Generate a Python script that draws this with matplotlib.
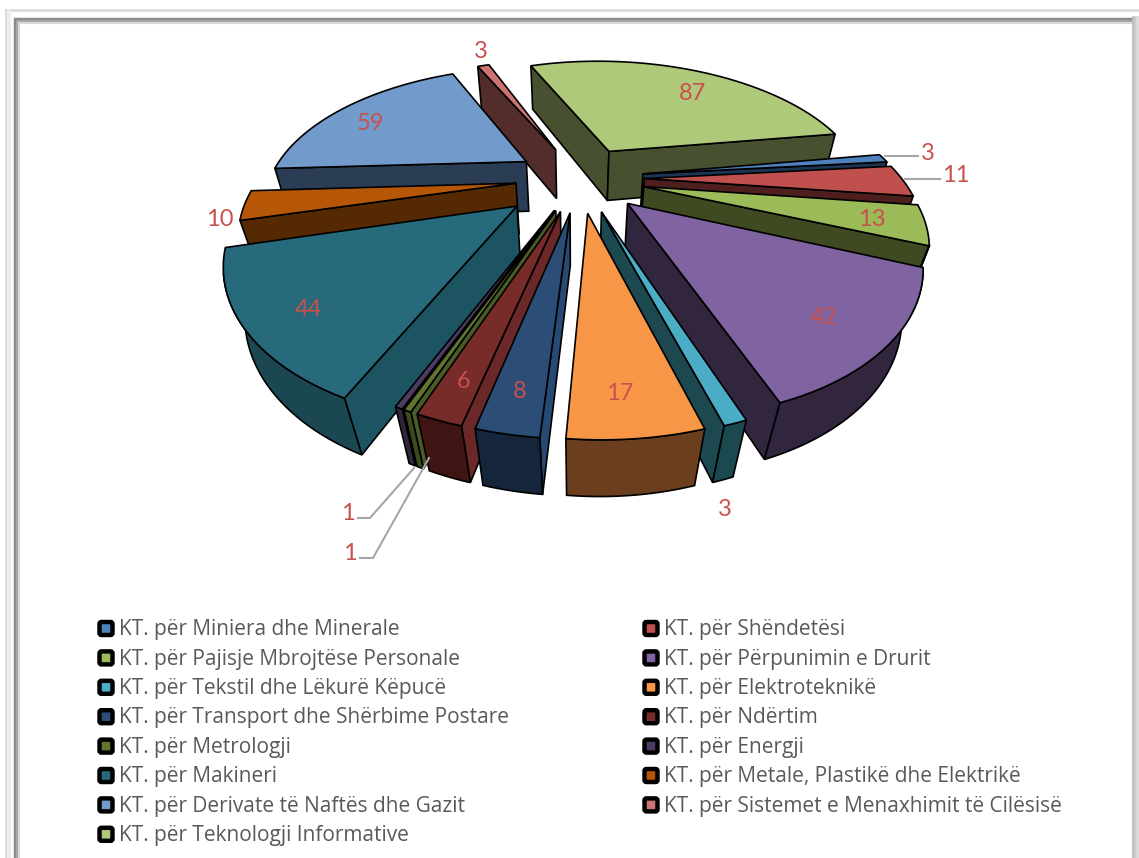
import numpy as np
import matplotlib
matplotlib.use("Agg")
import matplotlib.pyplot as plt
from matplotlib.patches import Polygon, FancyBboxPatch

categories = [
    "KT. për Miniera dhe Minerale", "KT. për Shëndetësi",
    "KT. për Pajisje Mbrojtëse Personale", "KT. për Përpunimin e Drurit",
    "KT. për Tekstil dhe Lëkurë Këpucë", "KT. për Elektroteknikë",
    "KT. për Transport dhe Shërbime Postare", "KT. për Ndërtim",
    "KT. për Metrologji", "KT. për Energji",
    "KT. për Makineri", "KT. për Metale, Plastikë dhe Elektrikë",
    "KT. për Derivate të Naftës dhe Gazit", "KT. për Sistemet e Menaxhimit të Cilësisë",
    "KT. për Teknologji Informative",
]
values = [3, 11, 13, 42, 3, 17, 8, 6, 1, 1, 44, 10, 59, 3, 87]

top_colors = ["#4F81BD", "#C0504D", "#9BBB59", "#8064A2", "#4BACC6", "#F79646", "#2C4D75", "#772C2A",
              "#5F7530", "#4D3B62", "#276A7C", "#B65708", "#729ACA", "#CD7371", "#AFC97A"]
radial_colors = ["#1D3554", "#4F1F1F", "#3F4A22", "#32263F", "#1C4850", "#6B3F1E", "#264A74", "#6A2828",
                 "#4A5C25", "#3F3052", "#1C5462", "#552A03", "#2A3D55", "#532C2C", "#47502F"]
arc_colors = ["#1D3554", "#4F1F1F", "#3F4A22", "#32263F", "#1C4850", "#6B3F1E", "#15263C", "#411414",
              "#3C4A1E", "#32263F", "#1A4752", "#552A03", "#2A3D55", "#532C2C", "#47502F"]

explodes = [0.25, 0.25, 0.25, 0.25, 0.25, 0.25, 0.25, 0.25, 0.25, 0.25, 0.31, 0.25, 0.25, 0.25, 0.25]

label_xy = [(928, 154), (956, 176), (872, 220), (823, 318), (725, 509), (620, 393), (520, 392), (464, 382),
            (348, 514), (350, 554), (308, 310), (220, 220), (370, 123), (481, 51), (693, 94)]

# projection of the pie, pixel units
cx, cy = 580, 178
R, k, p = 257, 0.51, 0.30
shear = 0.05
start = 81.0
vx, vy = 575, 1148


def proj(X, Y):
    w = 1.0 / (1.0 - p * Y)
    sy = cy + R * k * Y * w
    return cx + R * X * w + shear * (sy - cy), sy


def lower(sx, sy):
    f = 0.033 + 0.000107 * sy
    return sx + f * (vx - sx), sy + f * (vy - sy)


fig = plt.figure(figsize=(11.39, 8.58), dpi=100)
ax = fig.add_axes([0, 0, 1, 1])
ax.set_xlim(0, 1139)
ax.set_ylim(858, 0)
ax.axis("off")

# frame
ax.plot([6, 6, 1145], [870, 10, 10], color="#DADADA", lw=2, solid_joinstyle="miter")
ax.plot([9, 9], [12, 870], color="#EDEDED", lw=3)
for off, col, lw in [(0, "#8C8C8C", 2.5), (2, "#A8A8A8", 2), (4, "#D8D8D8", 1.5)]:
    ax.plot([15 + off, 15 + off, 1133], [858, 19 + off, 19 + off], color=col, lw=lw, solid_joinstyle="miter")
for x, col in [(1133, "#BDBDBD"), (1135, "#CCCCCC"), (1137, "#DADADA")]:
    ax.plot([x, x], [17, 870], color=col, lw=2)

angles = start + np.cumsum([0] + values) * 360.0 / np.sum(values)
order = sorted(range(len(values)), key=lambda i: -np.cos(np.radians((angles[i] + angles[i + 1]) / 2)))
cam_y = 1.0 / p

for i in order:
    a0, a1 = angles[i], angles[i + 1]
    mid = np.radians((a0 + a1) / 2)
    Xa, Ya = explodes[i] * np.sin(mid), -explodes[i] * np.cos(mid)
    t = np.radians(np.linspace(a0, a1, 80))
    ox, oy = proj(Xa + np.sin(t), Ya - np.cos(t))
    apex = proj(Xa, Ya)
    lx, ly = lower(ox, oy)
    bx, by = lower(*apex)
    # side faces that look towards the camera
    n0 = -np.cos(t[0]), -np.sin(t[0])
    n1 = np.cos(t[-1]), np.sin(t[-1])
    for j, n in ((0, n0), (-1, n1)):
        if (-Xa) * n[0] + (cam_y - Ya) * n[1] > 0:
            ax.add_patch(Polygon([apex, (ox[j], oy[j]), (lx[j], ly[j]), (bx, by)], closed=True, fc=radial_colors[i], ec="black", lw=1.2))
    seen = (-Xa) * np.sin(t) + (cam_y - Ya) * (-np.cos(t)) - 1 > 0
    if seen.sum() > 1:
        ax.add_patch(Polygon(np.column_stack([np.r_[ox[seen], lx[seen][::-1]], np.r_[oy[seen], ly[seen][::-1]]]), closed=True, fc=arc_colors[i], ec="black", lw=1.2))
    ax.add_patch(Polygon(np.column_stack([np.r_[apex[0], ox], np.r_[apex[1], oy]]), closed=True, fc=top_colors[i], ec="black", lw=1.2))

# leader lines
for xs, ys in [([885, 918], [156, 156]), ([905, 940], [179, 179]),
               ([414, 370, 358], [468, 518, 518]), ([429, 373, 360], [458, 558, 558])]:
    ax.plot(xs, ys, color="#A6A6A6", lw=1.5)

for v, (x, y) in zip(values, label_xy):
    ax.text(x, y, str(v), color="#C9504D", fontsize=17, family="Lato", ha="center", va="center")

# legend, two columns
for n, name in enumerate(categories):
    col = n % 2
    row = n // 2
    x0 = 106 + col * 545
    y0 = 628.5 + row * 29.4
    ax.add_patch(FancyBboxPatch((x0 - 4.5, y0 - 4.5), 9, 9, boxstyle="round,pad=2,rounding_size=2", fc=top_colors[n], ec="black", lw=3.2))
    ax.text(x0 + 13, y0 + 1.2, name, color="#595959", fontsize=15.05, family="Open Sans", ha="left", va="center")

fig.savefig("out.png", dpi=100)
